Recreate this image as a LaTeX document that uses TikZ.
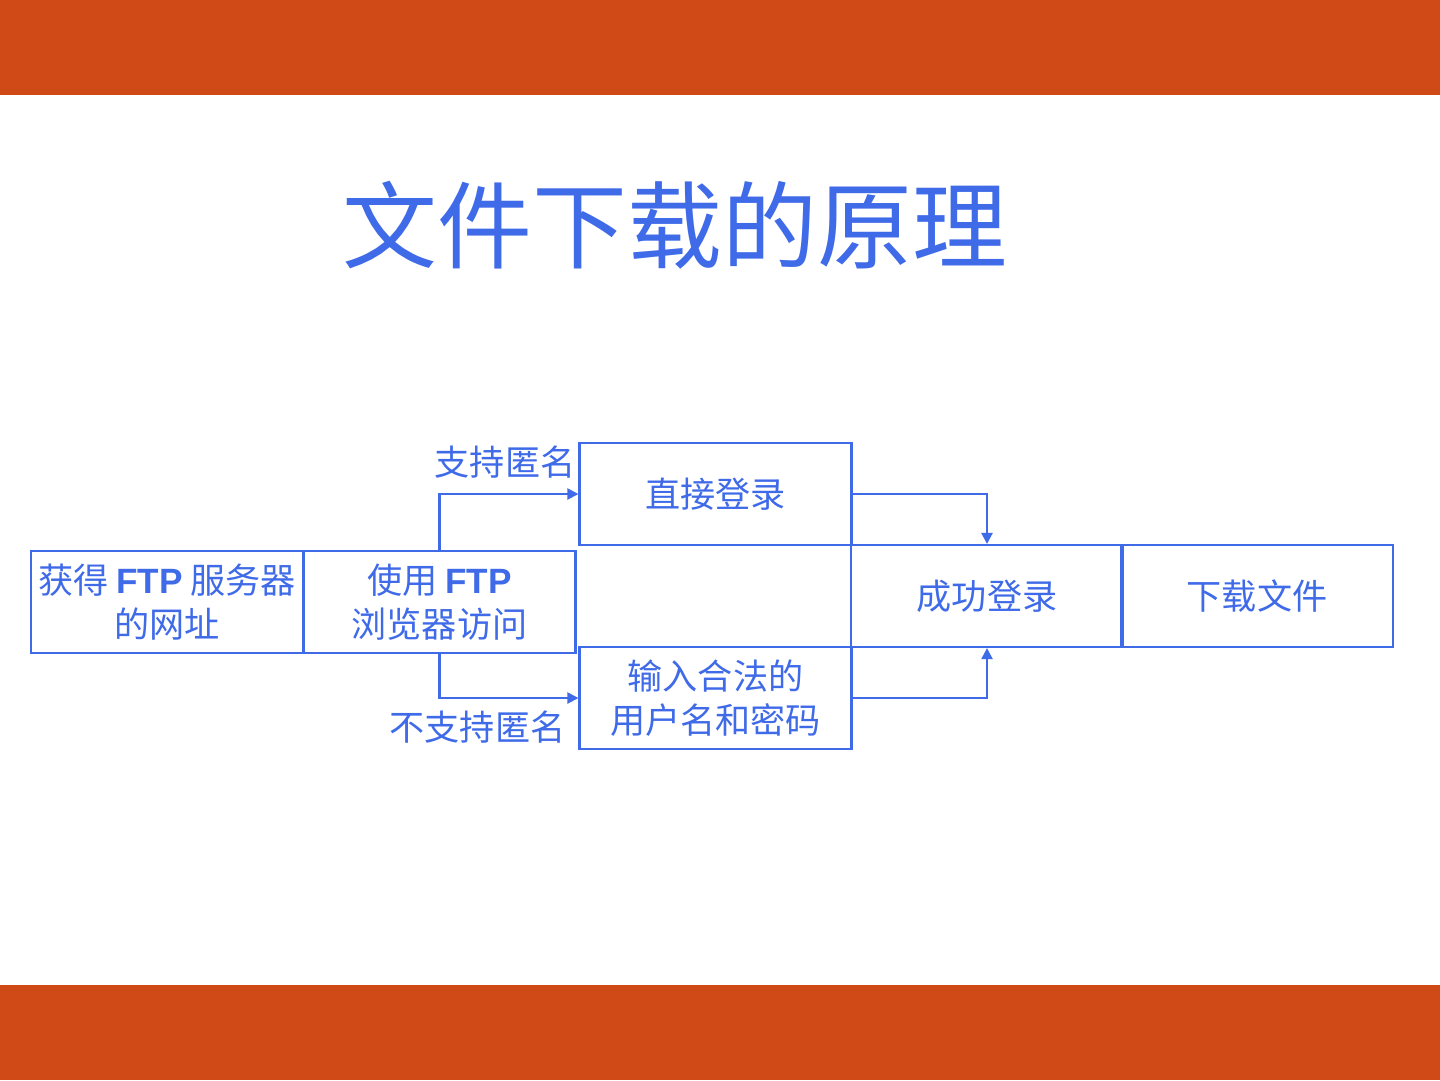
\documentclass[tikz,border=0pt]{standalone}
\usepackage{fontspec}
\usepackage{xcolor}
\usepackage{tikz}
\usetikzlibrary{positioning, arrows.meta}
\newfontfamily\cjk{Noto Sans CJK SC}
\newfontfamily\latinsans{Liberation Sans}
\definecolor{barorange}{HTML}{D04A18}
\definecolor{flowblue}{HTML}{3F6AE8}
\newcommand{\ftpword}{{\latinsans\bfseries FTP}}

\begin{document}
\begin{tikzpicture}[x=0.1mm, y=-0.1mm,
    stepbox/.style={draw=flowblue, line width=0.6pt, text=flowblue,
      minimum width=27.2mm, minimum height=10.2mm, inner sep=0pt,
      align=center, font=\cjk\fontsize{10}{12.5}\selectfont},
    note/.style={text=flowblue, inner sep=0pt, font=\cjk\fontsize{10}{12}\selectfont},
    flow/.style={draw=flowblue, line width=0.6pt, -{Triangle[length=1.1mm, width=1.1mm]}}]
    \useasboundingbox (0,0) rectangle (1440,1080);
    % bars
    \fill[barorange] (0,0) rectangle (1440,95);
    \fill[barorange] (0,985) rectangle (1440,1080);
    \node[text=flowblue, font=\cjk\fontsize{27}{30}\selectfont] (title) at (675,225) {文件下载的原理};
    % boxes
    \node[stepbox] (address) at (167,602) {获得 \ftpword{} 服务器\\的网址};
    \node[stepbox] (browser) at (439.5,602) {使用 \ftpword\\浏览器访问};
    \node[stepbox] (direct) at (715.5,494) {直接登录};
    \node[stepbox] (account) at (715.5,698) {输入合法的\\用户名和密码};
    \node[stepbox] (success) at (987,596) {成功登录};
    \node[stepbox] (download) at (1257,596) {下载文件};
    % labels
    \node[note, anchor=east] (anon) at (576,462) {支持匿名};
    \node[note, anchor=east] (noanon) at (566,727) {不支持匿名};
    % arrows
    \draw[flow] (browser.north) |- (direct.west);
    \draw[flow] (browser.south) |- (account.west);
    \draw[flow] (direct.east) -| (success.north);
    \draw[flow] (account.east) -| (success.south);
  \end{tikzpicture}
\end{document}
